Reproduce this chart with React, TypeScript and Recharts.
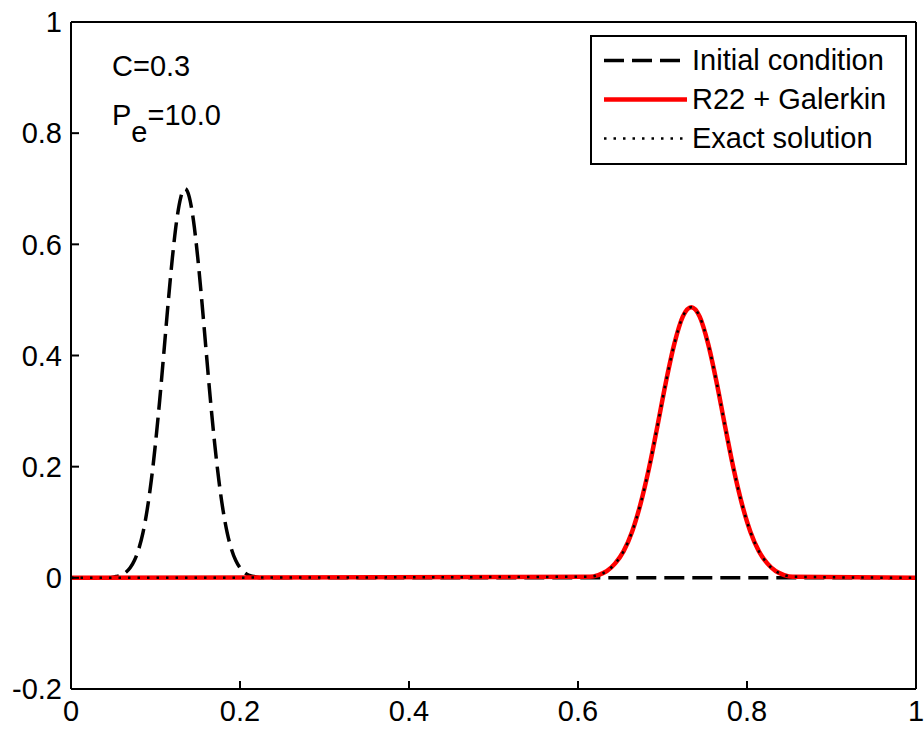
import React from 'react';
import { LineChart, Line, XAxis, YAxis, Legend } from 'recharts';

// initial condition (dashed black)
const initX = [0, 0.045, 0.05, 0.055, 0.06, 0.065, 0.07, 0.075, 0.08, 0.085, 0.09, 0.095, 0.1, 0.105, 0.11, 0.115, 0.12, 0.125, 0.13, 0.135, 0.14, 0.145, 0.15, 0.155, 0.16, 0.165, 0.17, 0.175, 0.18, 0.185, 0.19, 0.195, 0.2, 0.205, 0.21, 0.215, 0.22, 0.225, 1];
const initY = [0, 0, 0.001, 0.003, 0.005, 0.01, 0.018, 0.031, 0.051, 0.08, 0.121, 0.175, 0.242, 0.32, 0.407, 0.495, 0.576, 0.642, 0.685, 0.7, 0.685, 0.642, 0.576, 0.495, 0.407, 0.32, 0.242, 0.175, 0.121, 0.08, 0.051, 0.031, 0.018, 0.01, 0.005, 0.003, 0.001, 0, 0];

// R22 + Galerkin (red)
const galX = [0, 0.614, 0.624, 0.634, 0.644, 0.654, 0.664, 0.674, 0.684, 0.694, 0.704, 0.714, 0.724, 0.734, 0.744, 0.754, 0.764, 0.774, 0.784, 0.794, 0.804, 0.814, 0.824, 0.834, 0.844, 0.854, 1];
const galY = [0, 0.002, 0.005, 0.012, 0.026, 0.048, 0.083, 0.133, 0.197, 0.273, 0.352, 0.421, 0.47, 0.487, 0.47, 0.421, 0.352, 0.273, 0.197, 0.133, 0.083, 0.048, 0.026, 0.012, 0.005, 0.002, 0];

// exact solution (dotted black)
const exactX = galX;
const exactY = [0, 0.002, 0.005, 0.012, 0.026, 0.048, 0.083, 0.133, 0.197, 0.273, 0.352, 0.421, 0.47, 0.487, 0.47, 0.421, 0.352, 0.273, 0.197, 0.133, 0.083, 0.048, 0.026, 0.012, 0.005, 0.002, 0];

const xTicks = [0, 0.2, 0.4, 0.6, 0.8, 1];
const yTicks = [-0.2, 0, 0.2, 0.4, 0.6, 0.8, 1];

const toRows = (xs: number[], ys: number[]) => xs.map((x, i) => ({ x, y: ys[i] }));

const series = [
  { name: 'Initial condition', data: toRows(initX, initY), color: '#000', width: 3.5, dash: '20 8' },
  { name: 'R22 + Galerkin', data: toRows(galX, galY), color: '#ff0000', width: 4.5, dash: undefined },
  { name: 'Exact solution', data: toRows(exactX, exactY), color: '#000', width: 2.5, dash: '2.5 7' },
];

const FONT = '"Liberation Sans", Arial, sans-serif';
const tickStyle = { fill: '#000', fontSize: 29, fontFamily: FONT };

const renderLegend = () => (
  <div
    style={{
      width: 317,
      height: 130,
      boxSizing: 'border-box',
      border: '2px solid #000',
      background: '#fff',
      paddingTop: 4,
      fontFamily: FONT,
      fontSize: 29,
      color: '#000',
    }}
  >
    {series.map((s) => (
      <div key={s.name} style={{ display: 'flex', alignItems: 'center', height: 39 }}>
        <svg width={100} height={39} style={{ flex: 'none' }}>
          <line x1={12} x2={95} y1={19.5} y2={19.5} stroke={s.color} strokeWidth={s.width} strokeDasharray={s.dash} />
        </svg>
        <span style={{ lineHeight: '39px', whiteSpace: 'nowrap' }}>{s.name}</span>
      </div>
    ))}
  </div>
);

export default function App() {
  return (
    <div style={{ position: 'absolute', left: 0, top: 0, width: 924, height: 731, background: '#fff' }}>
      <LineChart width={924} height={731} margin={{ top: 0, right: 0, bottom: 0, left: 0 }}>
        <XAxis
          dataKey="x"
          type="number"
          domain={[0, 1]}
          ticks={xTicks}
          height={42}
          axisLine={{ stroke: '#000', strokeWidth: 2 }}
          tickLine={{ stroke: '#000', strokeWidth: 2 }}
          tickSize={-8}
          tickMargin={19}
          tick={tickStyle}
          allowDataOverflow
        />
        <XAxis
          xAxisId="top"
          orientation="top"
          dataKey="x"
          type="number"
          domain={[0, 1]}
          ticks={xTicks}
          height={22}
          axisLine={{ stroke: '#000', strokeWidth: 2 }}
          tickLine={{ stroke: '#000', strokeWidth: 2 }}
          tickSize={-8}
          tick={false}
        />
        <YAxis
          type="number"
          domain={[-0.2, 1]}
          ticks={yTicks}
          width={71}
          axisLine={{ stroke: '#000', strokeWidth: 2 }}
          tickLine={{ stroke: '#000', strokeWidth: 2 }}
          tickSize={-8}
          tickMargin={17}
          tick={tickStyle}
          allowDataOverflow
        />
        <YAxis
          yAxisId="right"
          orientation="right"
          type="number"
          domain={[-0.2, 1]}
          ticks={yTicks}
          width={8}
          axisLine={{ stroke: '#000', strokeWidth: 2 }}
          tickLine={{ stroke: '#000', strokeWidth: 2 }}
          tickSize={-8}
          tick={false}
        />
        <Legend
          layout="horizontal"
          verticalAlign="middle"
          align="center"
          content={renderLegend}
          wrapperStyle={{ left: 590, top: 35, width: 317, height: 130 }}
        />
        {series.map((s) => (
          <Line
            key={s.name}
            data={s.data}
            dataKey="y"
            name={s.name}
            type="monotone"
            stroke={s.color}
            strokeWidth={s.width}
            strokeDasharray={s.dash}
            dot={false}
            activeDot={false}
            isAnimationActive={false}
          />
        ))}
      </LineChart>
      <svg
        width={924}
        height={731}
        style={{ position: 'absolute', left: 0, top: 0, pointerEvents: 'none' }}
        fontFamily={FONT}
        fontSize={29}
      >
        <text x={112} y={76} fill="#000">C=0.3</text>
        <text x={112} y={125} fill="#000">
          P<tspan dy={17}>e</tspan>
          <tspan dy={-17}>=10.0</tspan>
        </text>
      </svg>
    </div>
  );
}
